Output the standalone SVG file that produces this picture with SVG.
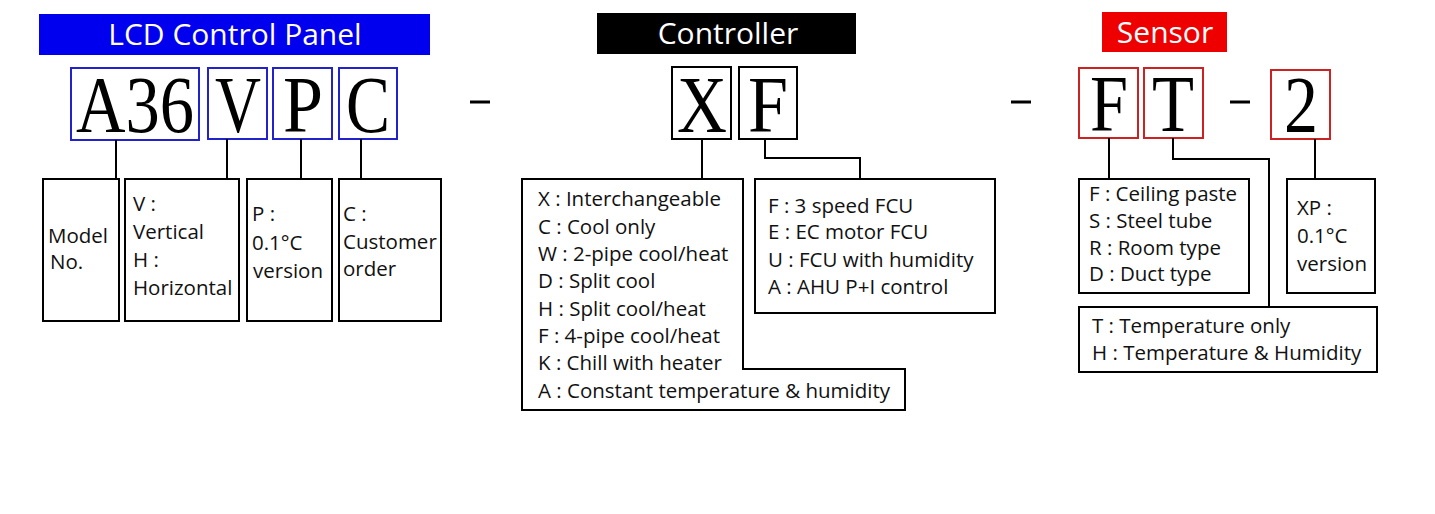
<svg xmlns="http://www.w3.org/2000/svg" width="1435" height="514" viewBox="0 0 1435 514">
<style>
.t{font-family:"Open Sans","Noto Sans",sans-serif;font-size:20.5px;fill:#111}
.h{font-family:"Open Sans","Noto Sans",sans-serif;font-size:30px;fill:#fff;text-anchor:middle}
.L{font-family:"Liberation Serif",serif;font-size:80px;fill:#000;text-anchor:middle}
.bb{fill:none;stroke:#2222cc;stroke-width:2}
.rb{fill:none;stroke:#cc2222;stroke-width:2}
.kb{fill:none;stroke:#000;stroke-width:2}
.ln{fill:none;stroke:#000;stroke-width:2}
.d{stroke:#000;stroke-width:3}
</style>
<rect width="1435" height="514" fill="#fff"/>
<g id="lcd">
<rect x="39" y="14" width="391" height="41" fill="#0000ee"/>
<text class="h" x="235" y="45">LCD Control Panel</text>
<rect class="bb" x="71" y="68" width="128" height="72"/><text class="L" x="135" y="132" textLength="118" lengthAdjust="spacingAndGlyphs">A36</text>
<rect class="bb" x="208" y="68" width="59" height="71"/><text class="L" x="238" y="132" textLength="46" lengthAdjust="spacingAndGlyphs">V</text>
<rect class="bb" x="273" y="68" width="59" height="71"/><text class="L" x="303" y="132" textLength="40" lengthAdjust="spacingAndGlyphs">P</text>
<rect class="bb" x="339" y="68" width="58" height="71"/><text class="L" x="368" y="132" fill="#666" textLength="44" lengthAdjust="spacingAndGlyphs">C</text>
</g>
<g id="ctrl">
<rect x="597" y="13" width="259" height="41" fill="#000"/>
<text class="h" x="728" y="44">Controller</text>
<rect class="kb" x="672" y="67" width="59" height="72"/><text class="L" x="702" y="132" textLength="50" lengthAdjust="spacingAndGlyphs">X</text>
<rect class="kb" x="739" y="67" width="58" height="72"/><text class="L" x="768" y="132" textLength="40" lengthAdjust="spacingAndGlyphs">F</text>
</g>
<g id="sensor">
<rect x="1102" y="12" width="125" height="40" fill="#ee0000"/>
<text class="h" x="1165" y="43">Sensor</text>
<rect class="rb" x="1079" y="68" width="59" height="70"/><text class="L" x="1109" y="131" textLength="38" lengthAdjust="spacingAndGlyphs">F</text>
<rect class="rb" x="1144" y="68" width="59" height="70"/><text class="L" x="1173" y="131" textLength="42" lengthAdjust="spacingAndGlyphs">T</text>
<rect class="rb" x="1271" y="70" width="59" height="69"/><text class="L" x="1301" y="132" textLength="34" lengthAdjust="spacingAndGlyphs">2</text>
</g>
<g id="dashes">
<line class="d" x1="470" y1="102" x2="490" y2="102"/>
<line class="d" x1="1011" y1="102" x2="1031" y2="102"/>
<line class="d" x1="1230" y1="102" x2="1250" y2="102"/>
</g>
<g id="connectors">
<path class="ln" d="M116 140V179M227 139V179M301 139V179M361 139V179"/>
<path class="ln" d="M702 139V179M765 139V158H860V179"/>
<path class="ln" d="M1109 138V179M1173 138V159H1269V307M1315 139V179"/>
</g>
<g id="box-model"><rect class="kb" x="43" y="179" width="76" height="142"/>
<text class="t" x="48" y="243">Model</text><text class="t" x="50" y="269">No.</text></g>
<g id="box-v"><rect class="kb" x="125" y="179" width="114" height="142"/>
<text class="t" x="133" y="211">V :</text><text class="t" x="133" y="239">Vertical</text><text class="t" x="133" y="267">H :</text><text class="t" x="133" y="295">Horizontal</text></g>
<g id="box-p"><rect class="kb" x="247" y="179" width="85" height="142"/>
<text class="t" x="252" y="221">P :</text><text class="t" x="252" y="250">0.1°C</text><text class="t" x="253" y="278">version</text></g>
<g id="box-c"><rect class="kb" x="339" y="179" width="102" height="142"/>
<text class="t" x="343" y="221">C :</text><text class="t" x="343" y="249">Customer</text><text class="t" x="343" y="276">order</text></g>
<g id="box-x"><path class="kb" d="M522 179H743V369H905V410H522Z"/>
<text class="t" x="538" y="206">X : Interchangeable</text>
<text class="t" x="538" y="234">C : Cool only</text>
<text class="t" x="538" y="261">W : 2-pipe cool/heat</text>
<text class="t" x="538" y="288">D : Split cool</text>
<text class="t" x="538" y="316">H : Split cool/heat</text>
<text class="t" x="538" y="343">F : 4-pipe cool/heat</text>
<text class="t" x="538" y="370">K : Chill with heater</text>
<text class="t" x="538" y="398">A : Constant temperature &amp; humidity</text></g>
<g id="box-f"><rect class="kb" x="755" y="179" width="240" height="134"/>
<text class="t" x="768" y="213">F : 3 speed FCU</text>
<text class="t" x="768" y="239">E : EC motor FCU</text>
<text class="t" x="768" y="267">U : FCU with humidity</text>
<text class="t" x="768" y="294">A : AHU P+I control</text></g>
<g id="box-sf"><rect class="kb" x="1079" y="179" width="170" height="114"/>
<text class="t" x="1089" y="201">F : Ceiling paste</text>
<text class="t" x="1089" y="228">S : Steel tube</text>
<text class="t" x="1089" y="255">R : Room type</text>
<text class="t" x="1089" y="281">D : Duct type</text></g>
<g id="box-xp"><rect class="kb" x="1287" y="179" width="88" height="114"/>
<text class="t" x="1297" y="215">XP :</text><text class="t" x="1297" y="243">0.1°C</text><text class="t" x="1297" y="271">version</text></g>
<g id="box-t"><rect class="kb" x="1079" y="307" width="298" height="65"/>
<text class="t" x="1092" y="333">T : Temperature only</text>
<text class="t" x="1092" y="360">H : Temperature &amp; Humidity</text></g>
</svg>
